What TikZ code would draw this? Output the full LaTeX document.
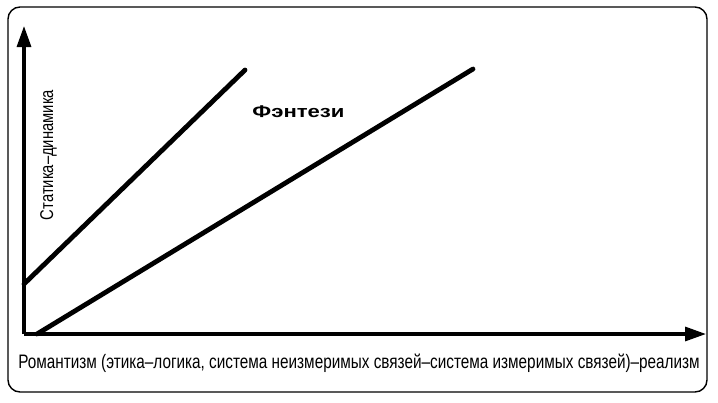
\documentclass[tikz,border=0pt]{standalone}
\usepackage{fontspec}
\setmainfont{Liberation Sans}
\newfontfamily\narrowfont[FakeStretch=0.785]{Liberation Sans}
\newfontfamily\tallfont[FakeStretch=0.8]{Liberation Sans}
\newfontfamily\widefont[FakeStretch=1.3]{Liberation Sans}
\usetikzlibrary{arrows.meta, positioning}
\tikzset{%
	frame/.style={draw, line width=1.4pt, rounded corners=12pt},
	axis/.style={line width=3.2pt, -{Triangle[length=21pt, width=14pt]}},
	trend/.style={line width=4.8pt, line cap=round},
	genre/.style={font=\widefont\fontsize{17}{19}\bfseries, inner sep=0pt, anchor=base},
	axlabel/.style={font=\narrowfont\fontsize{19.5}{21}\selectfont, inner sep=0pt, anchor=base},
	vlabel/.style={font=\tallfont\fontsize{18.5}{21}\selectfont, inner sep=0pt, anchor=base, rotate=90}
}
\begin{document}
\begin{tikzpicture}[x=1pt, y=-1pt]
		\useasboundingbox (0,0) rectangle (718,402);
		\draw[frame] (8,7) rectangle (707,392);
		\coordinate (o) at (24,334);
		\coordinate (ytip) at (24,26);
		\coordinate (xtip) at (706,334);
		\coordinate (a1) at (24,284);
		\coordinate (a2) at (245,70);
		\coordinate (b1) at (37,334);
		\coordinate (b2) at (473,69);
		\draw[axis] (o) to (ytip);
		\draw[axis] (o) to (xtip);
		\draw[trend] (a1) to (a2);
		\draw[trend] (b1) to (b2);
		\node[genre] (fantasy) at (298.5,117) {Фэнтези};
		\node[vlabel] (ylab) at (53,155) {Статика–динамика};
		\node[axlabel] (xlab) at (359,368) {Романтизм (этика–логика, система неизмеримых связей–система измеримых связей)–реализм};
	\end{tikzpicture}
\end{document}
